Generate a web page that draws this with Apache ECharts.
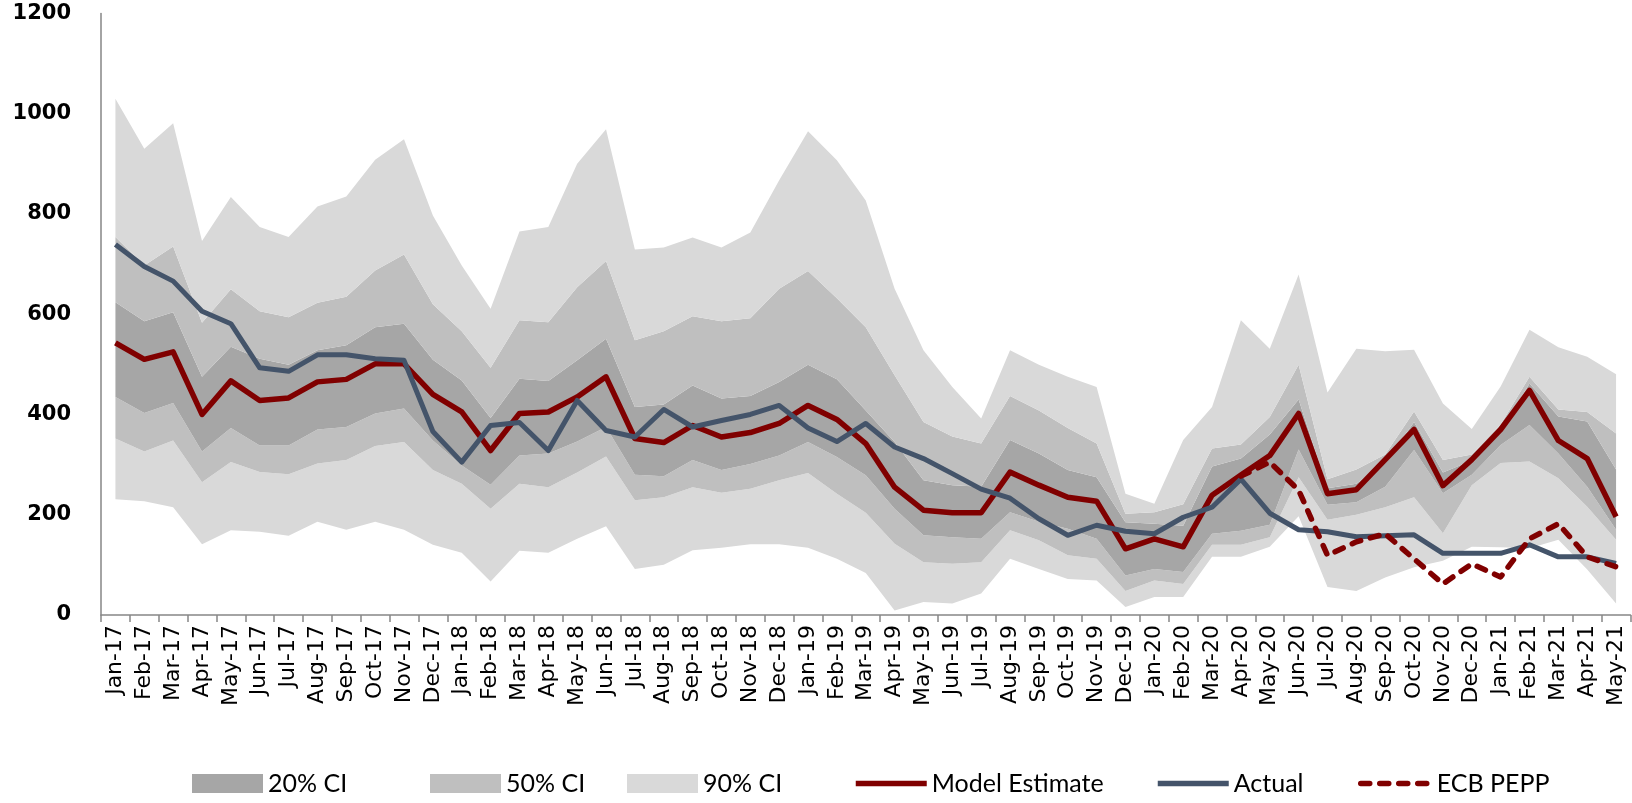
<!DOCTYPE html>
<html>
<head>
<meta charset="utf-8">
<title>Model estimate vs actual</title>
<script src="https://cdn.jsdelivr.net/npm/echarts@6/dist/echarts.min.js"></script>
<style>
    html, body { margin: 0; padding: 0; background: #ffffff; }
    #chart { width: 1632px; height: 803px; }
</style>
</head>
<body>
<div id="chart"></div>
<script>
var months = [
    "Jan-17", "Feb-17", "Mar-17", "Apr-17", "May-17", "Jun-17", "Jul-17", "Aug-17", "Sep-17", "Oct-17", "Nov-17", "Dec-17",
    "Jan-18", "Feb-18", "Mar-18", "Apr-18", "May-18", "Jun-18", "Jul-18", "Aug-18", "Sep-18", "Oct-18", "Nov-18", "Dec-18",
    "Jan-19", "Feb-19", "Mar-19", "Apr-19", "May-19", "Jun-19", "Jul-19", "Aug-19", "Sep-19", "Oct-19", "Nov-19", "Dec-19",
    "Jan-20", "Feb-20", "Mar-20", "Apr-20", "May-20", "Jun-20", "Jul-20", "Aug-20", "Sep-20", "Oct-20", "Nov-20", "Dec-20",
    "Jan-21", "Feb-21", "Mar-21", "Apr-21", "May-21"
];

var modelEstimate = [
    543, 510, 525, 400, 467, 428, 433, 465, 470, 501, 501, 440,
    405, 328, 402, 405, 435, 475, 352, 344, 378, 355, 364, 382,
    418, 390, 342, 255, 209, 204, 204, 285, 259, 235, 227, 132,
    152, 136, 239, 279, 318, 402, 242, 250, 310, 370, 258, 310,
    370, 448, 348, 312, 196
];

var actual = [
    739, 695, 666, 606, 581, 493, 486, 519, 519, 511, 508, 366,
    305, 378, 384, 328, 428, 368, 355, 410, 375, 388, 400, 418,
    373, 346, 382, 335, 312, 282, 251, 233, 192, 159, 179, 167,
    162, 195, 215, 271, 203, 170, 166, 156, 158, 160, 123, 123,
    123, 140, 116, 116, 103
];

// ECB PEPP starts in Apr-20
var ecbStart = "Apr-20";
var ecbPepp = [277, 305, 249, 119, 146, 162, 112, 62, 102, 76, 152, 182, 116, 96];

var ci90Hi = [
    1030, 930, 981, 746, 834, 774, 754, 815, 835, 908, 949, 797,
    697, 611, 765, 774, 900, 969, 729, 733, 753, 733, 763, 867,
    965, 907, 827, 651, 528, 455, 392, 528, 499, 475, 455, 242,
    222, 349, 415, 588, 531, 679, 444, 531, 526, 529, 422, 371,
    456, 569, 534, 515, 480
];
var ci50Hi = [
    754, 697, 735, 583, 650, 606, 594, 623, 635, 687, 719, 620,
    566, 493, 588, 584, 654, 706, 548, 566, 596, 586, 592, 651,
    686, 632, 574, 478, 385, 356, 342, 437, 408, 373, 342, 202,
    205, 221, 332, 340, 395, 499, 271, 290, 320, 406, 309, 320,
    380, 475, 410, 405, 362
];
var ci20Hi = [
    624, 586, 604, 475, 535, 511, 499, 528, 538, 574, 581, 509,
    468, 393, 471, 467, 508, 551, 415, 420, 458, 432, 437, 465,
    499, 470, 408, 345, 269, 259, 256, 349, 322, 289, 275, 185,
    182, 178, 296, 312, 360, 430, 253, 262, 303, 385, 284, 308,
    365, 462, 396, 386, 290
];
var ci20Lo = [
    435, 403, 423, 326, 373, 338, 338, 370, 375, 402, 412, 348,
    298, 260, 318, 322, 346, 375, 280, 277, 309, 289, 301, 318,
    345, 315, 279, 212, 159, 155, 152, 205, 186, 172, 152, 79,
    92, 86, 162, 168, 180, 330, 220, 225, 256, 329, 243, 280,
    339, 379, 322, 256, 170
];
var ci50Lo = [
    352, 326, 348, 265, 305, 285, 281, 302, 309, 337, 345, 289,
    262, 212, 262, 255, 284, 316, 229, 235, 255, 244, 252, 269,
    283, 242, 204, 142, 105, 102, 105, 169, 149, 119, 112, 48,
    69, 62, 140, 140, 155, 275, 190, 200, 215, 235, 163, 259,
    303, 306, 273, 216, 150
];
var ci90Lo = [
    231, 227, 215, 141, 169, 166, 158, 186, 170, 186, 170, 140,
    124, 67, 128, 124, 152, 177, 92, 100, 129, 134, 141, 141,
    134, 112, 84, 9, 26, 23, 43, 112, 92, 72, 69, 16,
    36, 36, 116, 116, 136, 197, 56, 48, 75, 95, 108, 136,
    135, 133, 150, 91, 23
];

var yTicks = [0, 200, 400, 600, 800, 1000, 1200];

var colors = {
    ci20: "#a6a6a6",
    ci50: "#bfbfbf",
    ci90: "#d9d9d9",
    model: "#800000",
    actual: "#44546a"
};

function diff(hi, lo) {
    return hi.map(function (v, i) { return v - lo[i]; });
}

function band(name, data, color) {
    return {
        name: name,
        type: "line",
        stack: "ci",
        data: data,
        symbol: "none",
        silent: true,
        color: color,
        itemStyle: {color: color},
        lineStyle: {width: 0, opacity: 0},
        areaStyle: {color: color, opacity: 1}
    };
}

var ecbOffset = months.indexOf(ecbStart);
var ecbData = months.map(function (m, i) {
    return i < ecbOffset ? null : ecbPepp[i - ecbOffset];
});

var legendText = {fontFamily: "Lato", fontSize: 25, color: "#000000"};
function legendAt(name, left, icon) {
    var lg = {
        data: [icon ? {name: name, icon: icon} : {name: name}],
        left: left,
        top: 766,
        itemWidth: 71,
        itemHeight: 19,
        selectedMode: false,
        textStyle: legendText
    };
    if (!icon) {
        // line entries: hide the marker, keep a thick line
        lg.itemStyle = {opacity: 0};
        lg.lineStyle = {width: 5.5};
    }
    return lg;
}

var chart = echarts.init(document.getElementById("chart"), null, {renderer: "canvas"});

var option = {
    backgroundColor: "#ffffff",
    animation: false,
    grid: {
        left: 101,
        right: 1.5,
        top: 13.4,
        bottom: 188
    },
    legend: [
        legendAt("20% CI", 187, "rect"),
        legendAt("50% CI", 425, "rect"),
        legendAt("90% CI", 622, "rect"),
        legendAt("Model Estimate", 848),
        legendAt("Actual", 1150),
        legendAt("ECB PEPP", 1353)
    ],
    xAxis: {
        type: "category",
        data: months,
        boundaryGap: true,
        axisLine: {lineStyle: {color: "#868686", width: 1.5}},
        axisTick: {show: true, interval: 0, length: 7, lineStyle: {color: "#868686", width: 1.5}},
        axisLabel: {
            interval: 0,
            rotate: 90,
            margin: 10,
            fontFamily: "DejaVu Sans",
            fontSize: 22,
            color: "#000000"
        },
        splitLine: {show: false}
    },
    yAxis: {
        type: "value",
        min: yTicks[0],
        max: yTicks[yTicks.length - 1],
        interval: 200,
        axisLine: {show: true, lineStyle: {color: "#868686", width: 1.5}},
        axisTick: {show: false},
        splitLine: {show: false},
        axisLabel: {
            margin: 30,
            formatter: function (v) { return String(v); },
            fontFamily: "DejaVu Sans",
            fontWeight: "bold",
            fontSize: 21,
            color: "#000000"
        }
    },
    series: [
        {
            name: "base",
            type: "line",
            stack: "ci",
            data: ci90Lo,
            symbol: "none",
            silent: true,
            lineStyle: {width: 0, opacity: 0}
        },
        band("90% CI", diff(ci50Lo, ci90Lo), colors.ci90),
        band("50% CI", diff(ci20Lo, ci50Lo), colors.ci50),
        band("20% CI", diff(ci20Hi, ci20Lo), colors.ci20),
        band("50% CI", diff(ci50Hi, ci20Hi), colors.ci50),
        band("90% CI", diff(ci90Hi, ci50Hi), colors.ci90),
        {
            name: "Model Estimate",
            type: "line",
            data: modelEstimate,
            symbol: "none",
            color: colors.model,
            lineStyle: {color: colors.model, width: 5.5, join: "round"}
        },
        {
            name: "Actual",
            type: "line",
            data: actual,
            symbol: "none",
            color: colors.actual,
            lineStyle: {color: colors.actual, width: 5, join: "round"}
        },
        {
            name: "ECB PEPP",
            type: "line",
            data: ecbData,
            symbol: "none",
            color: colors.model,
            lineStyle: {color: colors.model, width: 5.5, type: [9, 10], cap: "round", join: "round"}
        }
    ]
};

chart.setOption(option);
</script>
</body>
</html>
